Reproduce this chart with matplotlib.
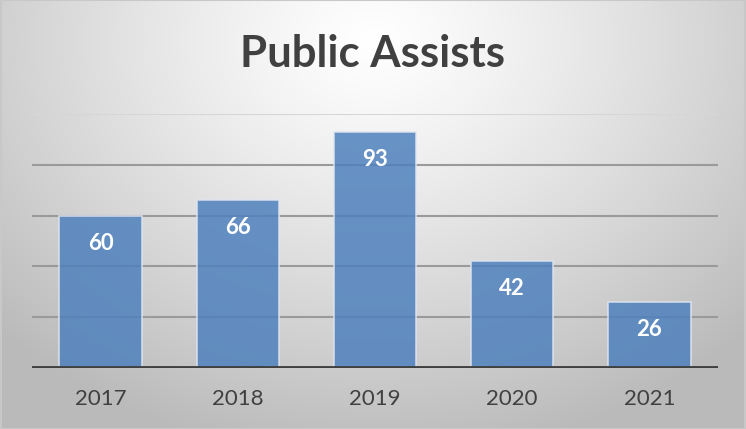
import numpy as np
import matplotlib
matplotlib.use("Agg")
import matplotlib.pyplot as plt

plt.rcParams['font.family'] = ['Lato', 'DejaVu Sans']

# data
years = ["2017", "2018", "2019", "2020", "2021"]
assists = [60, 66, 93, 42, 26]
grid_vals = [20, 40, 60, 80]

fig = plt.figure(figsize=(7.46, 4.29), dpi=100)

# radial gradient background
bg = fig.add_axes([0, 0, 1, 1], zorder=0)
yy, xx = np.mgrid[0:429, 0:746]
d = np.sqrt(((xx - 373) / 520.0) ** 2 + ((yy - 40) / 420.0) ** 2)
shade = 1.0 - 0.27 * np.clip(d, 0, 1) ** 1.2
img = np.dstack([shade, shade, shade])
bg.imshow(img, aspect='auto', extent=[0, 1, 0, 1], origin='upper')
bg.set_xlim(0, 1)
bg.set_ylim(0, 1)
bg.axis('off')
# thin outer border
bg.plot([0.001, 0.999, 0.999, 0.001, 0.001], [0.001, 0.001, 0.999, 0.999, 0.001],
        color='#c8c8c8', lw=1.5)

ax = fig.add_axes([32 / 746, 61 / 429, 686 / 746, 254 / 429], zorder=1)
ax.patch.set_alpha(0)

x = np.arange(len(years))
for g in grid_vals:
    ax.axhline(g, color='#9a9a9a', lw=1.5, zorder=1)
ax.axhline(100, color='#d6d6d6', lw=1.5, zorder=1)

bars = ax.bar(x, assists, width=0.6, color='#4f81bd', alpha=0.85,
              edgecolor='#dfe6f0', linewidth=1.2, zorder=2)
ax.axhline(0, color='#404040', lw=3.5, zorder=3)

for xi, v in zip(x, assists):
    ax.text(xi, v - 10.8, str(v), ha='center', va='center', color='white',
            fontsize=16, fontweight='bold', zorder=4)

ax.set_xlim(-0.5, 4.5)
ax.set_ylim(0, 100)
ax.set_xticks(x)
ax.set_xticklabels(years, fontsize=16, color='#404040')
ax.tick_params(axis='x', length=0, pad=15)
ax.set_yticks([])
for s in ax.spines.values():
    s.set_visible(False)

fig.text(0.5, 1 - 54 / 429, "Public Assists", ha='center', va='center',
         fontsize=31.5, fontweight='bold', color='#404040')

fig.savefig("out.png", dpi=100)
